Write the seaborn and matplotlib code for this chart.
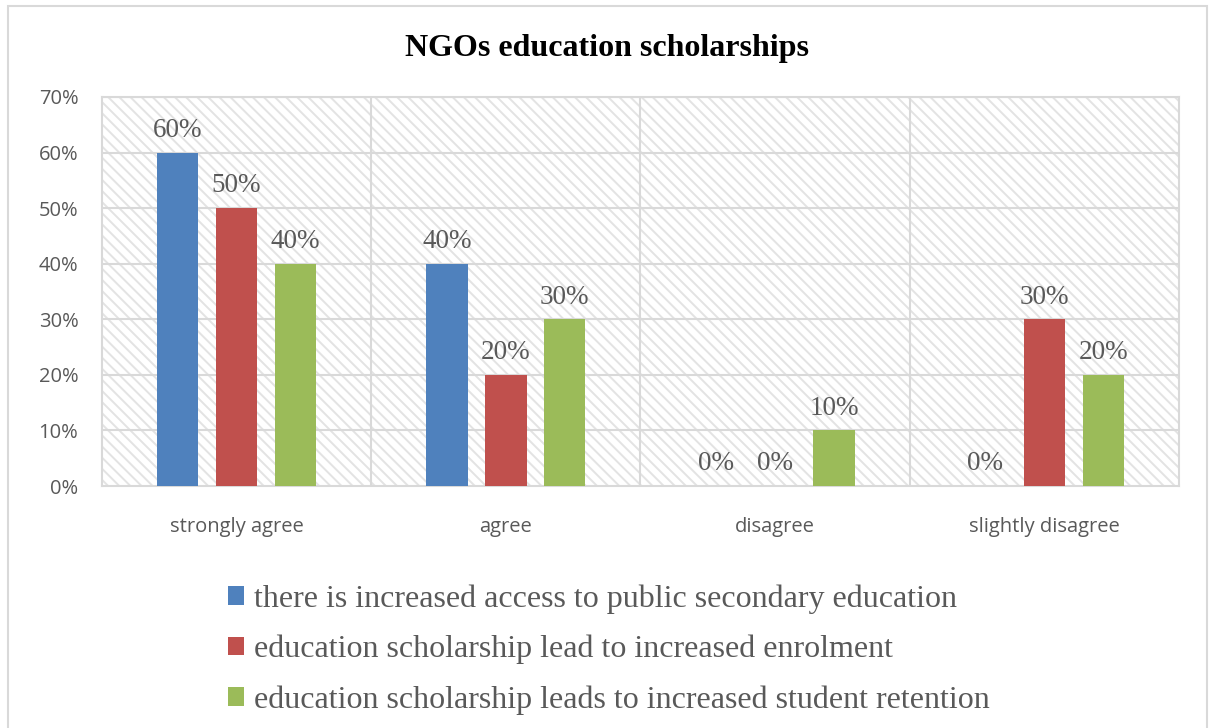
import matplotlib
matplotlib.use("Agg")
import matplotlib.pyplot as plt
from matplotlib.patches import Rectangle
from matplotlib.ticker import FuncFormatter, MultipleLocator
import pandas as pd
import seaborn as sns

categories = ["strongly agree", "agree", "disagree", "slightly disagree"]
series_names = [
    "there is increased access to public secondary education",
    "education scholarship lead to increased enrolment",
    "education scholarship leads to increased student retention",
]
access_values = [0.60, 0.40, 0.00, 0.00]
enrolment_values = [0.50, 0.20, 0.00, 0.30]
retention_values = [0.40, 0.30, 0.10, 0.20]
colors = ["#4F81BD", "#C0504D", "#9BBB59"]
title = "NGOs education scholarships"

rows = []
for name, vals in zip(series_names, [access_values, enrolment_values, retention_values]):
    for cat, v in zip(categories, vals):
        rows.append({"category": cat, "series": name, "value": v})
df = pd.DataFrame(rows)

sns.set_theme(style="white")
plt.rcParams["hatch.linewidth"] = 1.4
plt.rcParams["hatch.color"] = "#E3E3E3"

fig = plt.figure(figsize=(12.11, 7.28), dpi=100)
ax = fig.add_axes([0.0842, 0.3324, 0.8894, 0.5344])

grid_c = "#D9D9D9"
text_c = "#595959"

# hatched plot-area background
ax.add_patch(Rectangle((0, 0), 1, 1, transform=ax.transAxes, facecolor="white",
                       edgecolor="#E3E3E3", hatch="\\\\\\", linewidth=0, zorder=0))

sns.barplot(data=df, x="category", y="value", hue="series", order=categories,
            hue_order=series_names, palette=colors, width=0.657, gap=0.30,
            saturation=1, linewidth=0, ax=ax, zorder=3)

ax.set_ylim(0, 0.70)
ax.set_xlim(-0.5, 3.5)
ax.yaxis.set_major_locator(MultipleLocator(0.10))
ax.yaxis.set_major_formatter(FuncFormatter(lambda v, p: f"{v*100:.0f}%"))
for y in [0.1 * i for i in range(1, 8)]:
    ax.axhline(y, color=grid_c, lw=1.5, zorder=1)
for x in [0.5, 1.5, 2.5]:
    ax.axvline(x, color=grid_c, lw=1.5, zorder=1)
for s in ax.spines.values():
    s.set_color(grid_c)
    s.set_linewidth(1.5)
    s.set_visible(True)

ax.set_xlabel("")
ax.set_ylabel("")
ax.tick_params(axis="both", length=0, labelcolor=text_c, labelsize=14.5)
ax.tick_params(axis="x", pad=22)
ax.tick_params(axis="y", pad=17)
for lbl in ax.get_xticklabels() + ax.get_yticklabels():
    lbl.set_fontfamily("Open Sans")

for cont in ax.containers:
    ax.bar_label(cont, labels=[f"{v*100:.0f}%" for v in cont.datavalues],
                 padding=7, fontsize=19.5, color=text_c, family="Liberation Serif",
                 zorder=4)

fig.text(0.501, 0.934, title, ha="center", va="center", fontsize=23,
         fontweight="bold", family="Liberation Serif", color="black")

sns.move_legend(ax, "upper left", bbox_to_anchor=(0.178, 0.215),
                bbox_transform=fig.transFigure, frameon=False, title=None,
                fontsize=23, handlelength=0.5, handleheight=0.5,
                handletextpad=0.3, labelspacing=0.66, borderaxespad=0)
leg = ax.get_legend()
for t in leg.get_texts():
    t.set_color(text_c)
    t.set_fontfamily("Liberation Serif")

fig.patches.append(Rectangle((8 / 1211, -0.01), 1199 / 1211, 1 - 6 / 728 + 0.01,
                             transform=fig.transFigure, fill=False,
                             edgecolor=grid_c, linewidth=1.5))

fig.savefig("out.png", dpi=100, facecolor="white")
